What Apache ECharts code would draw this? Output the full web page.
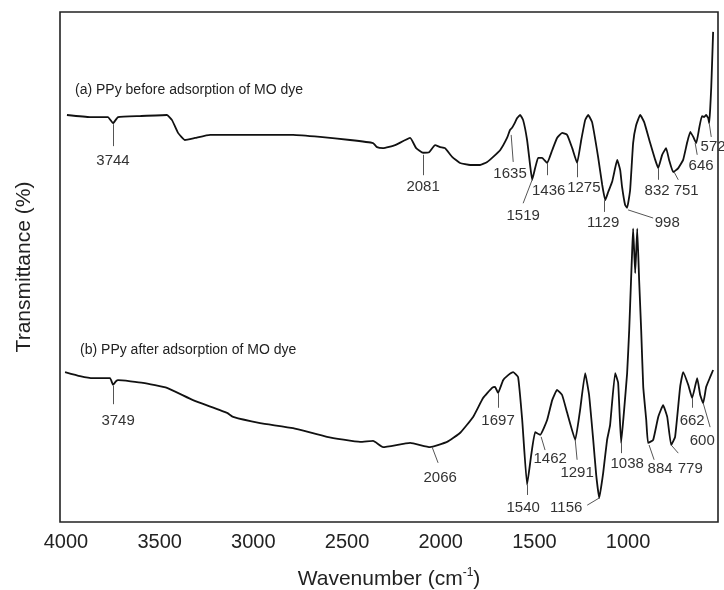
<!DOCTYPE html>
<html>
<head>
<meta charset="utf-8">
<script src="https://cdn.jsdelivr.net/npm/echarts@6/dist/echarts.min.js"></script>
<style>
  html, body { margin: 0; padding: 0; background: #fff; }
  #ftir { width: 724px; height: 590px; }
</style>
</head>
<body>
<div id="ftir"></div>
<script>
// wavenumber (cm-1), transmittance (arbitrary, offset so both traces fit)
var curveA = [
  [3995,79.8],[3872,79.4],[3776,79.4],[3749,78.2],[3722,79.4],[3605,79.6],[3461,79.8],[3434,78.8],
  [3402,76.3],[3365,74.9],[3311,75.3],[3231,75.9],[3018,75.9],[2788,75.9],[2644,75.5],[2484,74.9],
  [2361,74.3],[2340,73.5],[2308,73.3],[2243,73.9],[2163,75.3],[2131,73.3],[2094,72.4],[2062,72.5],
  [2030,73.9],[2003,73.5],[1977,73.3],[1939,71.6],[1897,70.4],[1843,70.0],[1790,70.0],[1752,70.6],
  [1720,71.6],[1683,72.9],[1646,75.3],[1630,76.9],[1619,77.3],[1608,78.0],[1592,79.2],[1576,79.8],
  [1560,78.8],[1539,74.9],[1523,70.0],[1512,67.1],[1496,69.4],[1480,71.4],[1459,71.4],[1432,70.4],
  [1405,72.9],[1379,75.3],[1352,76.3],[1325,75.9],[1298,73.3],[1272,70.4],[1250,74.9],[1229,78.8],
  [1213,79.8],[1192,78.4],[1160,71.6],[1138,66.1],[1122,63.1],[1106,64.7],[1085,66.7],[1069,69.4],
  [1058,71.0],[1042,69.0],[1032,65.7],[1016,62.2],[1005,61.6],[989,65.1],[973,74.3],[957,77.8],
  [935,79.8],[914,78.4],[882,74.3],[855,71.0],[839,69.4],[818,72.0],[797,73.3],[781,71.0],
  [759,68.6],[732,69.4],[706,71.0],[684,74.5],[668,76.5],[652,75.5],[636,74.3],[620,77.3],
  [606,79.6],[594,79.4],[583,79.8],[572,79.2],[567,78.2],[562,80.8],[556,85.3],[551,90.6],[546,96.1]
];

var curveB = [
  [4005,29.4],[3925,28.6],[3856,28.2],[3765,28.2],[3749,26.9],[3733,27.6],[3722,27.8],[3589,27.3],
  [3461,26.3],[3322,23.9],[3140,21.4],[3108,20.6],[2964,19.4],[2788,18.4],[2607,16.7],[2430,15.7],
  [2361,15.9],[2308,14.7],[2163,15.5],[2057,14.7],[1966,15.7],[1896,17.5],[1827,20.6],[1774,24.3],
  [1726,26.3],[1710,26.5],[1694,25.3],[1667,27.8],[1640,28.8],[1613,29.4],[1587,28.4],[1565,20.0],
  [1539,7.3],[1517,13.1],[1496,17.6],[1469,17.1],[1432,20.0],[1405,23.9],[1379,25.9],[1352,24.9],
  [1325,21.4],[1282,16.1],[1256,22.0],[1229,29.2],[1208,24.9],[1186,16.1],[1170,9.2],[1154,4.7],
  [1133,9.6],[1112,16.1],[1096,19.0],[1069,29.2],[1053,27.3],[1037,15.5],[1021,22.0],[1005,29.2],
  [994,37.6],[984,47.5],[978,53.3],[973,57.5],[962,48.8],[951,57.5],[941,47.5],[930,37.6],
  [919,26.5],[903,20.0],[893,15.5],[866,16.1],[839,20.6],[813,22.9],[791,20.6],[770,15.1],
  [749,16.7],[722,26.5],[706,29.4],[679,26.9],[658,24.3],[631,28.2],[615,24.9],[599,23.3],
  [583,26.5],[562,28.4],[546,29.8]
];

// peak labels: text, point on curve, end of leader line, label centre
var peaksA = [
  ['3744', [3749,78.0], [3749,73.7], [3749,70.8]],
  ['2081', [2094,72.0], [2094,68.0], [2094,65.7]],
  ['1635', [1624,75.9], [1613,70.6], [1630,68.2]],
  ['1519', [1512,67.1], [1560,62.5], [1560,60.0]],
  ['1436', [1432,70.4], [1432,68.0], [1424,64.9]],
  ['1275', [1272,70.4], [1272,67.6], [1236,65.5]],
  ['1129', [1128,63.1], [1128,60.8], [1133,58.6]],
  ['998',  [1000,61.2], [866,59.6],  [791,58.6]],
  ['832',  [839,69.4],  [839,67.1],  [845,64.9]],
  ['751',  [754,68.6],  [732,67.1],  [690,64.9]],
  ['646',  [642,74.3],  [631,72.0],  [610,69.8]],
  ['572',  [567,78.2],  [556,75.5],  [546,73.5]]
];

var peaksB = [
  ['3749', [3749,26.7], [3749,23.1], [3722,19.8]],
  ['2066', [2046,14.7], [2014,11.6], [2003,8.6]],
  ['1697', [1694,25.3], [1694,22.4], [1694,19.8]],
  ['1540', [1539,7.3],  [1539,5.3],  [1560,2.7]],
  ['1462', [1464,16.7], [1443,14.1], [1416,12.3]],
  ['1291', [1282,16.1], [1272,12.2], [1272,9.6]],
  ['1156', [1154,4.7],  [1218,3.3],  [1330,2.7]],
  ['1038', [1037,15.5], [1037,13.5], [1005,11.4]],
  ['884',  [888,15.1],  [861,12.2],  [829,10.4]],
  ['779',  [770,15.1],  [732,13.5],  [668,10.4]],
  ['662',  [658,24.3],  [658,22.4],  [658,19.8]],
  ['600',  [599,23.3],  [562,18.6],  [604,15.9]]
];

var nameA = ['(a) PPy before adsorption of MO dye', [3952,84.7]];
var nameB = ['(b) PPy after adsorption of MO dye', [3925,33.7]];

var xLabels = [4000, 3500, 3000, 2500, 2000, 1500, 1000];

var FONT = 'Liberation Sans, Arial, sans-serif';

function leaders(list) {
  return list.map(function (p) {
    return [{ coord: p[1] }, { coord: p[2] }];
  });
}

function tags(list, title) {
  var out = list.map(function (p) {
    return { coord: p[3], value: p[0] };
  });
  out.push({
    coord: title[1], value: title[0],
    label: { align: 'left', fontSize: 14, color: '#222' }
  });
  return out;
}

function trace(data, peaks, title) {
  return {
    type: 'line',
    data: data,
    showSymbol: false,
    smooth: 0.12,
    lineStyle: { color: '#111', width: 1.8 },
    markLine: {
      silent: true,
      symbol: ['none', 'none'],
      label: { show: false },
      lineStyle: { color: '#555', width: 1, type: 'solid' },
      data: leaders(peaks)
    },
    markPoint: {
      silent: true,
      symbol: 'circle',
      symbolSize: 1,
      itemStyle: { color: 'rgba(0,0,0,0)' },
      label: {
        show: true, position: 'inside', formatter: '{c}',
        color: '#333', fontSize: 15, fontFamily: FONT
      },
      data: tags(peaks, title)
    }
  };
}

var chart = echarts.init(document.getElementById('ftir'));
chart.setOption({
  animation: false,
  grid: {
    left: 60, right: 6, top: 12, bottom: 68,
    outerBoundsMode: 'none',
    show: true, borderColor: '#222', borderWidth: 1.6
  },
  xAxis: {
    type: 'value', inverse: true, min: 520, max: 4032,
    axisLine: { show: false },
    axisTick: { show: false },
    splitLine: { show: false },
    axisLabel: {
      customValues: xLabels, fontSize: 20, color: '#222',
      fontFamily: FONT, margin: 10,
      formatter: function (v) { return String(v); }
    },
    name: 'Wavenumber (cm{sup|-1})',
    nameLocation: 'middle',
    nameGap: 45,
    nameTextStyle: {
      fontSize: 21, color: '#222', fontFamily: FONT,
      rich: { sup: { fontSize: 12, verticalAlign: 'top', padding: [0, 0, 12, 0] } }
    }
  },
  yAxis: {
    type: 'value', min: 0, max: 100,
    axisLine: { show: false },
    axisTick: { show: false },
    axisLabel: { show: false },
    splitLine: { show: false },
    name: 'Transmittance (%)',
    nameLocation: 'middle',
    nameGap: 25,
    nameTextStyle: { fontSize: 21, color: '#222', fontFamily: FONT }
  },
  series: [trace(curveA, peaksA, nameA), trace(curveB, peaksB, nameB)]
});
</script>
</body>
</html>
